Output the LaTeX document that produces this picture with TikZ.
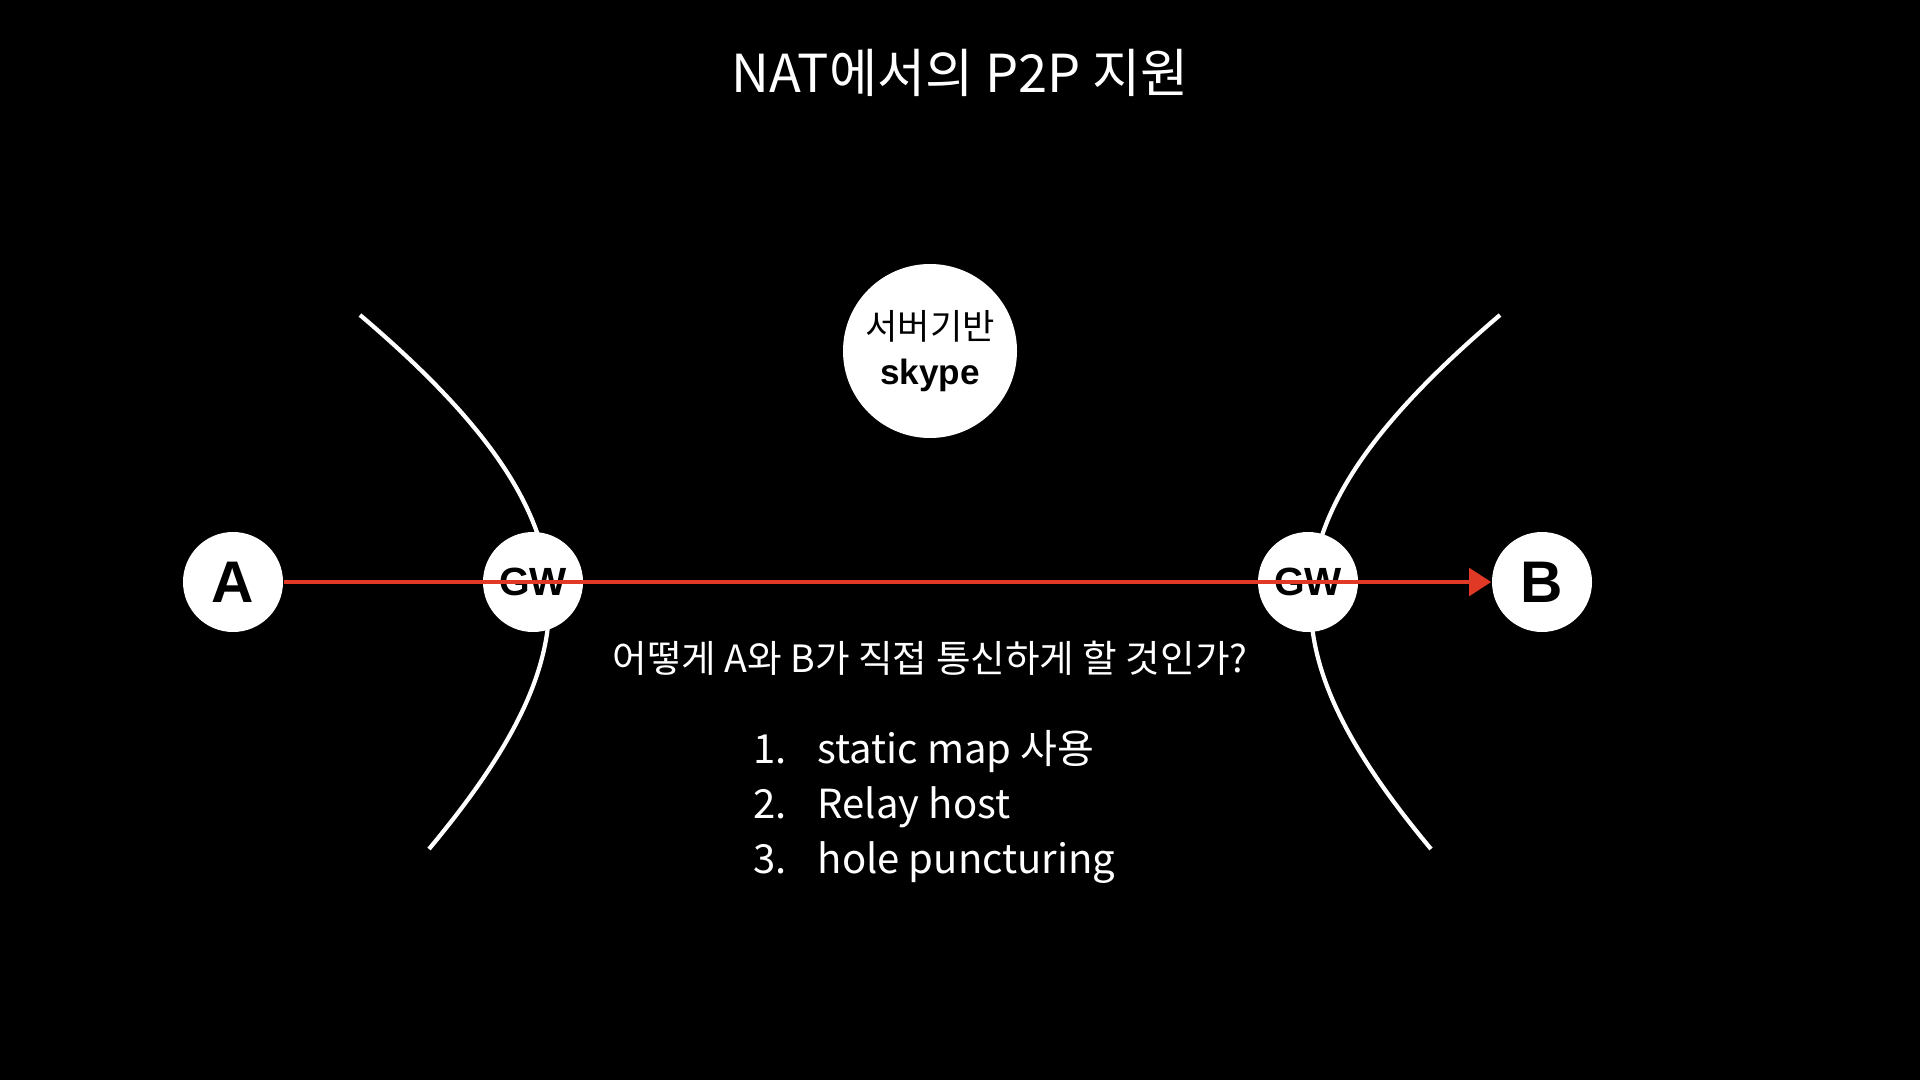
\documentclass[tikz,border=0pt]{standalone}
\usepackage{fontspec}
\setmainfont{Noto Sans CJK KR}
\newfontfamily\latinbold{Liberation Sans}
\usetikzlibrary{arrows.meta}
\definecolor{pathred}{RGB}{224,58,38}

\begin{document}
\begin{tikzpicture}[>={Triangle[length=6.3pt,width=7.7pt]},
  host/.style={circle,fill=white,text=black,inner sep=0pt,minimum size=1cm,
    font=\latinbold\bfseries\fontsize{16.7}{18}\selectfont},
  gate/.style={host,font=\latinbold\bfseries\fontsize{11.2}{13}\selectfont},
  nat/.style={white,line width=1.2pt},
  listtext/.style={text=white,anchor=base west,inner sep=0pt,font=\fontsize{11.4}{14}\selectfont}]
% background
\fill[black] (0,0) rectangle (19.2,-10.8);
% title
\node[text=white,anchor=base,inner sep=0pt,font=\fontsize{14.9}{17}\selectfont] (title) at (9.6,-0.93) {NAT에서의 P2P 지원};
% NAT boundaries
\draw[nat] (3.60,-3.15) .. controls (6.00,-5.19) and (5.99,-6.45) .. (4.29,-8.49);
\draw[nat] (15.00,-3.15) .. controls (12.60,-5.19) and (12.61,-6.45) .. (14.31,-8.49);
% hosts and gateways
\node[host] (A) at (2.33,-5.82) {A};
\node[gate] (gwA) at (5.33,-5.82) {GW};
\node[gate] (gwB) at (13.08,-5.82) {GW};
\node[host] (B) at (15.42,-5.82) {B};
% server
\node[host,minimum size=1.74cm,align=center,font=\fontsize{10}{12.6}\selectfont] (server) at (9.30,-3.51)
  {서버기반\\{\latinbold\bfseries\fontsize{10}{12.6}\selectfont skype}};
% direct path
\draw[->,pathred,line width=1.4pt] (A) -- (B);
% question
\node[text=white,anchor=base,inner sep=0pt,font=\fontsize{10.7}{12}\selectfont] (question) at (9.30,-6.72) {어떻게 A와 B가 직접 통신하게 할 것인가?};
% options
\node[listtext] (num1) at (7.53,-7.63) {1.};
\node[listtext] (item1) at (8.17,-7.63) {static map 사용};
\node[listtext] (num2) at (7.53,-8.18) {2.};
\node[listtext] (item2) at (8.17,-8.18) {Relay host};
\node[listtext] (num3) at (7.53,-8.73) {3.};
\node[listtext] (item3) at (8.17,-8.73) {hole puncturing};
\end{tikzpicture}
\end{document}
